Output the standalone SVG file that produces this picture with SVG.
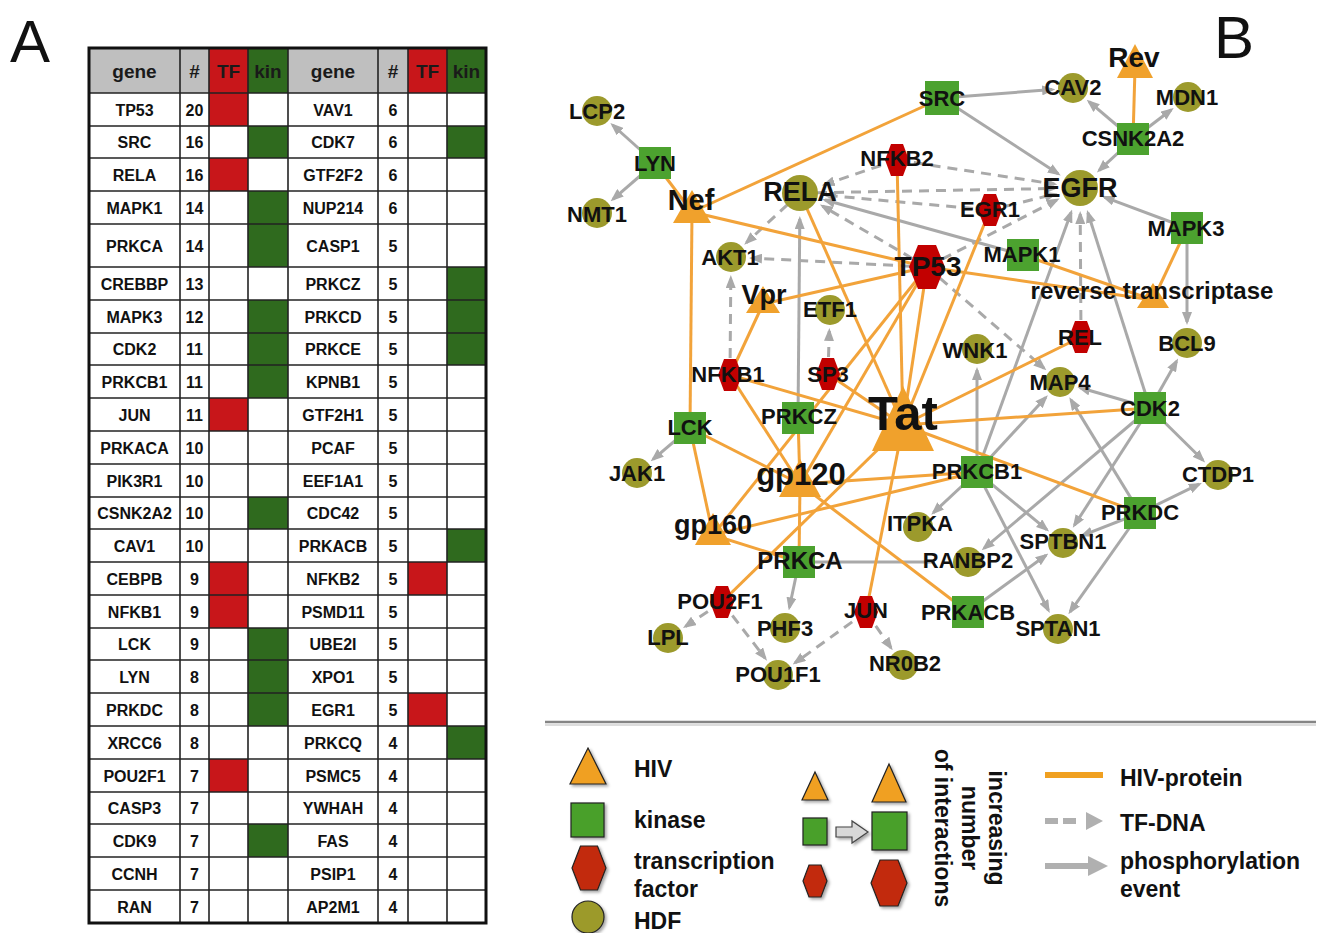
<svg xmlns="http://www.w3.org/2000/svg" width="1324" height="933" viewBox="0 0 1324 933">
<defs>
<style>
.f{font-family:"Liberation Sans",Arial,sans-serif;font-weight:bold;fill:#111}
.lbl{font-family:"Liberation Sans",Arial,sans-serif;font-weight:bold;fill:#111;text-anchor:middle;font-size:22px}
.tt{font-family:"Liberation Sans",Arial,sans-serif;font-weight:bold;fill:#111;text-anchor:middle;font-size:16px}
.th{font-family:"Liberation Sans",Arial,sans-serif;font-weight:bold;fill:#1a1a1a;text-anchor:middle;font-size:19px}
.leg{font-family:"Liberation Sans",Arial,sans-serif;font-weight:bold;fill:#111;font-size:23px}
.hiv{stroke:#f2a33a;stroke-width:3;fill:none}
.ph{stroke:#a9a9a9;stroke-width:3;fill:none}
.tf{stroke:#a9a9a9;stroke-width:3;fill:none;stroke-dasharray:10 7}
.c{fill:#9c9a2c}
.k{fill:#4ca22f}
.t{fill:#c20000}
.v{fill:#f0a12c}
.g{stroke:#222;stroke-width:1.6}
.red{fill:#c8161a}
.grn{fill:#2f6a1e}
</style>
<marker id="a" viewBox="0 0 13 10" refX="10" refY="5" markerWidth="13" markerHeight="10" markerUnits="userSpaceOnUse" orient="auto"><path d="M0,0L13,5L0,10z" fill="#a9a9a9"/></marker>
<filter id="sh" x="-30%" y="-30%" width="160%" height="160%"><feDropShadow dx="2" dy="2" stdDeviation="1.5" flood-color="#000" flood-opacity="0.35"/></filter>
</defs>
<rect width="1324" height="933" fill="#fff"/>

<text x="10" y="62" font-family="Liberation Sans,Arial,sans-serif" font-size="60" fill="#111">A</text>
<text x="1214" y="58" font-family="Liberation Sans,Arial,sans-serif" font-size="60" fill="#111">B</text>

<g id="table">
<rect x="89" y="48" width="397" height="45" fill="#bfbfbf"/>
<rect x="209" y="48" width="39" height="45" class="red"/>
<rect x="248" y="48" width="40" height="45" class="grn"/>
<rect x="408" y="48" width="39" height="45" class="red"/>
<rect x="447" y="48" width="39" height="45" class="grn"/>
<rect x="209" y="93" width="39" height="33" class="red"/>
<rect x="209" y="158" width="39" height="33" class="red"/>
<rect x="209" y="398" width="39" height="33" class="red"/>
<rect x="209" y="562" width="39" height="66" class="red"/>
<rect x="209" y="759" width="39" height="33" class="red"/>
<rect x="248" y="126" width="40" height="32" class="grn"/>
<rect x="248" y="191" width="40" height="76" class="grn"/>
<rect x="248" y="300" width="40" height="98" class="grn"/>
<rect x="248" y="497" width="40" height="32" class="grn"/>
<rect x="248" y="628" width="40" height="98" class="grn"/>
<rect x="248" y="824" width="40" height="33" class="grn"/>
<rect x="408" y="562" width="39" height="33" class="red"/>
<rect x="408" y="693" width="39" height="33" class="red"/>
<rect x="447" y="126" width="39" height="32" class="grn"/>
<rect x="447" y="267" width="39" height="98" class="grn"/>
<rect x="447" y="529" width="39" height="33" class="grn"/>
<rect x="447" y="726" width="39" height="33" class="grn"/>
<g class="g">
<line x1="180" y1="48" x2="180" y2="923"/><line x1="209" y1="48" x2="209" y2="923"/><line x1="248" y1="48" x2="248" y2="923"/><line x1="288" y1="48" x2="288" y2="923"/><line x1="378" y1="48" x2="378" y2="923"/><line x1="408" y1="48" x2="408" y2="923"/><line x1="447" y1="48" x2="447" y2="923"/>
<line x1="89" y1="93" x2="486" y2="93"/><line x1="89" y1="126" x2="486" y2="126"/><line x1="89" y1="158" x2="486" y2="158"/><line x1="89" y1="191" x2="486" y2="191"/><line x1="89" y1="224" x2="486" y2="224"/><line x1="89" y1="267" x2="486" y2="267"/><line x1="89" y1="300" x2="486" y2="300"/><line x1="89" y1="333" x2="486" y2="333"/><line x1="89" y1="365" x2="486" y2="365"/><line x1="89" y1="398" x2="486" y2="398"/><line x1="89" y1="431" x2="486" y2="431"/><line x1="89" y1="464" x2="486" y2="464"/><line x1="89" y1="497" x2="486" y2="497"/><line x1="89" y1="529" x2="486" y2="529"/><line x1="89" y1="562" x2="486" y2="562"/><line x1="89" y1="595" x2="486" y2="595"/><line x1="89" y1="628" x2="486" y2="628"/><line x1="89" y1="660" x2="486" y2="660"/><line x1="89" y1="693" x2="486" y2="693"/><line x1="89" y1="726" x2="486" y2="726"/><line x1="89" y1="759" x2="486" y2="759"/><line x1="89" y1="792" x2="486" y2="792"/><line x1="89" y1="824" x2="486" y2="824"/><line x1="89" y1="857" x2="486" y2="857"/><line x1="89" y1="890" x2="486" y2="890"/>
</g>
<rect x="89" y="48" width="397" height="875" fill="none" stroke="#111" stroke-width="3"/>
<g class="th">
<text x="134.5" y="78">gene</text><text x="194.5" y="78">#</text><text x="228.5" y="78">TF</text><text x="268" y="78">kin</text>
<text x="333" y="78">gene</text><text x="393" y="78">#</text><text x="427.5" y="78">TF</text><text x="466.5" y="78">kin</text>
</g>
<g class="tt">
<text x="134.5" y="115.5">TP53</text><text x="194.5" y="115.5">20</text><text x="333" y="115.5">VAV1</text><text x="393" y="115.5">6</text>
<text x="134.5" y="148">SRC</text><text x="194.5" y="148">16</text><text x="333" y="148">CDK7</text><text x="393" y="148">6</text>
<text x="134.5" y="180.5">RELA</text><text x="194.5" y="180.5">16</text><text x="333" y="180.5">GTF2F2</text><text x="393" y="180.5">6</text>
<text x="134.5" y="213.5">MAPK1</text><text x="194.5" y="213.5">14</text><text x="333" y="213.5">NUP214</text><text x="393" y="213.5">6</text>
<text x="134.5" y="251.5">PRKCA</text><text x="194.5" y="251.5">14</text><text x="333" y="251.5">CASP1</text><text x="393" y="251.5">5</text>
<text x="134.5" y="289.5">CREBBP</text><text x="194.5" y="289.5">13</text><text x="333" y="289.5">PRKCZ</text><text x="393" y="289.5">5</text>
<text x="134.5" y="322.5">MAPK3</text><text x="194.5" y="322.5">12</text><text x="333" y="322.5">PRKCD</text><text x="393" y="322.5">5</text>
<text x="134.5" y="355">CDK2</text><text x="194.5" y="355">11</text><text x="333" y="355">PRKCE</text><text x="393" y="355">5</text>
<text x="134.5" y="387.5">PRKCB1</text><text x="194.5" y="387.5">11</text><text x="333" y="387.5">KPNB1</text><text x="393" y="387.5">5</text>
<text x="134.5" y="420.5">JUN</text><text x="194.5" y="420.5">11</text><text x="333" y="420.5">GTF2H1</text><text x="393" y="420.5">5</text>
<text x="134.5" y="453.5">PRKACA</text><text x="194.5" y="453.5">10</text><text x="333" y="453.5">PCAF</text><text x="393" y="453.5">5</text>
<text x="134.5" y="486.5">PIK3R1</text><text x="194.5" y="486.5">10</text><text x="333" y="486.5">EEF1A1</text><text x="393" y="486.5">5</text>
<text x="134.5" y="519">CSNK2A2</text><text x="194.5" y="519">10</text><text x="333" y="519">CDC42</text><text x="393" y="519">5</text>
<text x="134.5" y="551.5">CAV1</text><text x="194.5" y="551.5">10</text><text x="333" y="551.5">PRKACB</text><text x="393" y="551.5">5</text>
<text x="134.5" y="584.5">CEBPB</text><text x="194.5" y="584.5">9</text><text x="333" y="584.5">NFKB2</text><text x="393" y="584.5">5</text>
<text x="134.5" y="617.5">NFKB1</text><text x="194.5" y="617.5">9</text><text x="333" y="617.5">PSMD11</text><text x="393" y="617.5">5</text>
<text x="134.5" y="650">LCK</text><text x="194.5" y="650">9</text><text x="333" y="650">UBE2I</text><text x="393" y="650">5</text>
<text x="134.5" y="682.5">LYN</text><text x="194.5" y="682.5">8</text><text x="333" y="682.5">XPO1</text><text x="393" y="682.5">5</text>
<text x="134.5" y="715.5">PRKDC</text><text x="194.5" y="715.5">8</text><text x="333" y="715.5">EGR1</text><text x="393" y="715.5">5</text>
<text x="134.5" y="748.5">XRCC6</text><text x="194.5" y="748.5">8</text><text x="333" y="748.5">PRKCQ</text><text x="393" y="748.5">4</text>
<text x="134.5" y="781.5">POU2F1</text><text x="194.5" y="781.5">7</text><text x="333" y="781.5">PSMC5</text><text x="393" y="781.5">4</text>
<text x="134.5" y="814">CASP3</text><text x="194.5" y="814">7</text><text x="333" y="814">YWHAH</text><text x="393" y="814">4</text>
<text x="134.5" y="846.5">CDK9</text><text x="194.5" y="846.5">7</text><text x="333" y="846.5">FAS</text><text x="393" y="846.5">4</text>
<text x="134.5" y="879.5">CCNH</text><text x="194.5" y="879.5">7</text><text x="333" y="879.5">PSIP1</text><text x="393" y="879.5">4</text>
<text x="134.5" y="912.5">RAN</text><text x="194.5" y="912.5">7</text><text x="333" y="912.5">AP2M1</text><text x="393" y="912.5">4</text>
</g>
</g>

<g id="connectors">
<g class="ph" marker-end="url(#a)">
<line x1="655" y1="163" x2="612.6" y2="125"/>
<line x1="655" y1="163" x2="612.9" y2="199.3"/>
<line x1="942" y1="98" x2="1052.1" y2="89.6"/>
<line x1="942" y1="98" x2="1058.2" y2="173.8"/>
<line x1="1133" y1="139" x2="1089" y2="101.6"/>
<line x1="1133" y1="139" x2="1171.3" y2="109.7"/>
<line x1="1133" y1="139" x2="1099.1" y2="170.4"/>
<line x1="1187" y1="228" x2="1104.4" y2="197.1"/>
<line x1="1187" y1="228" x2="1187" y2="322"/>
<line x1="1023" y1="255" x2="825" y2="200"/>
<line x1="798" y1="418" x2="799.8" y2="219"/>
<line x1="1150" y1="408" x2="1087.9" y2="212.8"/>
<line x1="977" y1="472" x2="1071.1" y2="212.4"/>
<line x1="977" y1="472" x2="977" y2="370"/>
<line x1="977" y1="472" x2="1045.8" y2="397.4"/>
<line x1="977" y1="472" x2="933.4" y2="512.7"/>
<line x1="977" y1="472" x2="1046.8" y2="529.6"/>
<line x1="977" y1="472" x2="1048.4" y2="610.3"/>
<line x1="1150" y1="408" x2="1080.2" y2="387.8"/>
<line x1="1150" y1="408" x2="1176.6" y2="361.2"/>
<line x1="1150" y1="408" x2="1203" y2="460.3"/>
<line x1="1150" y1="408" x2="984" y2="548.4"/>
<line x1="1150" y1="408" x2="1074.4" y2="525.3"/>
<line x1="1140" y1="513" x2="1070.9" y2="399.9"/>
<line x1="1140" y1="513" x2="1199.1" y2="484.2"/>
<line x1="1140" y1="513" x2="1082.6" y2="535.4"/>
<line x1="1140" y1="513" x2="1070.1" y2="611.9"/>
<line x1="968" y1="612" x2="1046" y2="555.3"/>
<line x1="799" y1="562" x2="789.4" y2="607.5"/>
<line x1="690" y1="428" x2="653" y2="459.4"/>
</g>
<line class="ph" x1="799" y1="562" x2="935" y2="562"/>
<g class="tf" marker-end="url(#a)">
<line x1="897" y1="160" x2="824.6" y2="184.6"/>
<line x1="897" y1="160" x2="1054.3" y2="184.1"/>
<line x1="800" y1="193" x2="1054" y2="188.5"/>
<line x1="990" y1="210" x2="825.9" y2="195.3"/>
<line x1="990" y1="210" x2="1054.7" y2="194.2"/>
<line x1="927" y1="267" x2="822.5" y2="206.1"/>
<line x1="927" y1="267" x2="752" y2="258.1"/>
<line x1="927" y1="267" x2="1056.9" y2="199.9"/>
<line x1="927" y1="267" x2="1044.1" y2="368.3"/>
<line x1="800" y1="193" x2="746.4" y2="242.7"/>
<line x1="730" y1="375" x2="730.8" y2="278"/>
<line x1="828" y1="374" x2="829.3" y2="331"/>
<line x1="1081" y1="337" x2="1080.2" y2="214"/>
<line x1="722" y1="602" x2="685.5" y2="626.4"/>
<line x1="722" y1="602" x2="765.2" y2="658.3"/>
<line x1="866" y1="612" x2="795.1" y2="662.8"/>
<line x1="866" y1="612" x2="891" y2="647.8"/>
</g>
<g class="hiv">
<line x1="692" y1="212" x2="942" y2="98"/>
<line x1="692" y1="212" x2="655" y2="163"/>
<line x1="692" y1="212" x2="927" y2="267"/>
<line x1="692" y1="212" x2="690" y2="428"/>
<line x1="800" y1="193" x2="903" y2="425"/>
<line x1="763" y1="304" x2="927" y2="267"/>
<line x1="763" y1="304" x2="730" y2="375"/>
<line x1="897" y1="160" x2="903" y2="425"/>
<line x1="927" y1="267" x2="903" y2="425"/>
<line x1="990" y1="210" x2="903" y2="425"/>
<line x1="927" y1="267" x2="800" y2="484"/>
<line x1="713" y1="535" x2="927" y2="267"/>
<line x1="927" y1="267" x2="1153" y2="300"/>
<line x1="1023" y1="255" x2="1153" y2="300"/>
<line x1="1187" y1="228" x2="1153" y2="300"/>
<line x1="1133" y1="139" x2="1135" y2="68"/>
<line x1="730" y1="375" x2="903" y2="425"/>
<line x1="828" y1="374" x2="903" y2="425"/>
<line x1="730" y1="375" x2="800" y2="484"/>
<line x1="690" y1="428" x2="800" y2="484"/>
<line x1="690" y1="428" x2="713" y2="535"/>
<line x1="798" y1="418" x2="800" y2="484"/>
<line x1="800" y1="484" x2="799" y2="562"/>
<line x1="800" y1="484" x2="977" y2="472"/>
<line x1="713" y1="535" x2="977" y2="472"/>
<line x1="800" y1="484" x2="968" y2="612"/>
<line x1="713" y1="535" x2="799" y2="562"/>
<line x1="903" y1="425" x2="1081" y2="337"/>
<line x1="903" y1="425" x2="1150" y2="408"/>
<line x1="903" y1="425" x2="1140" y2="513"/>
<line x1="903" y1="425" x2="722" y2="602"/>
<line x1="903" y1="425" x2="866" y2="612"/>
</g>
</g>

<g id="nodes">
<g id="n-LCP2"><circle class="c" cx="597" cy="111" r="15"/><text class="lbl" x="597" y="119">LCP2</text></g>
<g id="n-NMT1"><circle class="c" cx="597" cy="213" r="15"/><text class="lbl" x="597" y="222">NMT1</text></g>
<g id="n-LYN"><rect class="k" x="639" y="147" width="32" height="32"/><text class="lbl" x="655" y="171">LYN</text></g>
<g id="n-Nef"><polygon class="v" points="692,190 711,223 673,223"/><text class="lbl" x="691" y="210" style="font-size:29px">Nef</text></g>
<g id="n-RELA"><circle class="c" cx="800" cy="193" r="18"/><text class="lbl" x="800" y="201" style="font-size:27px">RELA</text></g>
<g id="n-SRC"><rect class="k" x="925" y="81" width="34" height="34"/><text class="lbl" x="942" y="106">SRC</text></g>
<g id="n-NFKB2"><polygon class="t" points="891,144 903,144 909,160 903,176 891,176 885,160"/><text class="lbl" x="897" y="166">NFKB2</text></g>
<g id="n-CAV2"><circle class="c" cx="1073" cy="88" r="15"/><text class="lbl" x="1073" y="95">CAV2</text></g>
<g id="n-Rev"><polygon class="v" points="1135,44 1153,78 1117,78"/><text class="lbl" x="1134" y="67" style="font-size:28px">Rev</text></g>
<g id="n-MDN1"><circle class="c" cx="1188" cy="97" r="15"/><text class="lbl" x="1187" y="105">MDN1</text></g>
<g id="n-CSNK2A2"><rect class="k" x="1117" y="123" width="32" height="32"/><text class="lbl" x="1133" y="146">CSNK2A2</text></g>
<g id="n-EGFR"><circle class="c" cx="1080" cy="188" r="18"/><text class="lbl" x="1080" y="197" style="font-size:27px">EGFR</text></g>
<g id="n-EGR1"><polygon class="t" points="984,194 996,194 1002,210 996,226 984,226 978,210"/><text class="lbl" x="990" y="217">EGR1</text></g>
<g id="n-AKT1"><circle class="c" cx="731" cy="257" r="15"/><text class="lbl" x="730" y="265">AKT1</text></g>
<g id="n-MAPK1"><rect class="k" x="1007" y="239" width="32" height="32"/><text class="lbl" x="1022" y="262">MAPK1</text></g>
<g id="n-TP53"><polygon class="t" points="918,245 936,245 945,267 936,289 918,289 909,267"/><text class="lbl" x="928" y="276" style="font-size:28px">TP53</text></g>
<g id="n-MAPK3"><rect class="k" x="1171" y="212" width="32" height="32"/><text class="lbl" x="1186" y="236">MAPK3</text></g>
<g id="n-Vpr"><polygon class="v" points="763,286 780,313 746,313"/><text class="lbl" x="764" y="304" style="font-size:27px">Vpr</text></g>
<g id="n-ETF1"><circle class="c" cx="830" cy="310" r="15"/><text class="lbl" x="830" y="317">ETF1</text></g>
<g id="n-RT"><polygon class="v" points="1153,283 1169,308 1137,308"/><text class="lbl" x="1152" y="299" style="font-size:24px">reverse transcriptase</text></g>
<g id="n-WNK1"><circle class="c" cx="977" cy="349" r="15"/><text class="lbl" x="975" y="358">WNK1</text></g>
<g id="n-REL"><polygon class="t" points="1075,321 1087,321 1093,337 1087,353 1075,353 1069,337"/><text class="lbl" x="1080" y="345">REL</text></g>
<g id="n-BCL9"><circle class="c" cx="1187" cy="343" r="15"/><text class="lbl" x="1187" y="351">BCL9</text></g>
<g id="n-NFKB1"><polygon class="t" points="724,359 736,359 742,375 736,391 724,391 718,375"/><text class="lbl" x="728" y="382">NFKB1</text></g>
<g id="n-SP3"><polygon class="t" points="822,358 834,358 840,374 834,390 822,390 816,374"/><text class="lbl" x="828" y="382">SP3</text></g>
<g id="n-MAP4"><circle class="c" cx="1060" cy="382" r="15"/><text class="lbl" x="1060" y="390">MAP4</text></g>
<g id="n-CDK2"><rect class="k" x="1134" y="392" width="32" height="32"/><text class="lbl" x="1150" y="416">CDK2</text></g>
<g id="n-LCK"><rect class="k" x="674" y="412" width="32" height="32"/><text class="lbl" x="690" y="435">LCK</text></g>
<g id="n-PRKCZ"><rect class="k" x="782" y="402" width="32" height="32"/><text class="lbl" x="799" y="424">PRKCZ</text></g>
<g id="n-Tat"><polygon class="v" points="903,386 934,451 872,451"/><text class="lbl" x="903" y="430" style="font-size:49px">Tat</text></g>
<g id="n-JAK1"><circle class="c" cx="637" cy="473" r="15"/><text class="lbl" x="637" y="481">JAK1</text></g>
<g id="n-gp120"><polygon class="v" points="800,459 821,497 779,497"/><text class="lbl" x="801" y="485" style="font-size:31px">gp120</text></g>
<g id="n-PRKCB1"><rect class="k" x="961" y="456" width="32" height="32"/><text class="lbl" x="977" y="479">PRKCB1</text></g>
<g id="n-CTDP1"><circle class="c" cx="1218" cy="475" r="15"/><text class="lbl" x="1218" y="482">CTDP1</text></g>
<g id="n-gp160"><polygon class="v" points="713,513 731,545 695,545"/><text class="lbl" x="713" y="534" style="font-size:27px">gp160</text></g>
<g id="n-ITPKA"><circle class="c" cx="918" cy="527" r="15"/><text class="lbl" x="920" y="531">ITPKA</text></g>
<g id="n-PRKDC"><rect class="k" x="1124" y="497" width="32" height="32"/><text class="lbl" x="1140" y="520">PRKDC</text></g>
<g id="n-SPTBN1"><circle class="c" cx="1063" cy="543" r="15"/><text class="lbl" x="1063" y="549">SPTBN1</text></g>
<g id="n-RANBP2"><circle class="c" cx="968" cy="562" r="15"/><text class="lbl" x="968" y="568">RANBP2</text></g>
<g id="n-PRKCA"><rect class="k" x="783" y="546" width="32" height="32"/><text class="lbl" x="800" y="569" style="font-size:24px">PRKCA</text></g>
<g id="n-POU2F1"><polygon class="t" points="716,586 728,586 734,602 728,618 716,618 710,602"/><text class="lbl" x="720" y="609">POU2F1</text></g>
<g id="n-JUN"><polygon class="t" points="860,596 872,596 878,612 872,628 860,628 854,612"/><text class="lbl" x="866" y="618">JUN</text></g>
<g id="n-PRKACB"><rect class="k" x="952" y="596" width="32" height="32"/><text class="lbl" x="968" y="620">PRKACB</text></g>
<g id="n-SPTAN1"><circle class="c" cx="1058" cy="629" r="15"/><text class="lbl" x="1058" y="636">SPTAN1</text></g>
<g id="n-LPL"><circle class="c" cx="668" cy="638" r="15"/><text class="lbl" x="668" y="645">LPL</text></g>
<g id="n-PHF3"><circle class="c" cx="785" cy="628" r="15"/><text class="lbl" x="785" y="636">PHF3</text></g>
<g id="n-POU1F1"><circle class="c" cx="778" cy="675" r="15"/><text class="lbl" x="778" y="682">POU1F1</text></g>
<g id="n-NR0B2"><circle class="c" cx="903" cy="665" r="15"/><text class="lbl" x="905" y="671">NR0B2</text></g>
</g>

<g id="legend">
<line x1="545" y1="725" x2="1316" y2="725" stroke="#ddd" stroke-width="2"/>
<line x1="545" y1="722" x2="1316" y2="722" stroke="#858585" stroke-width="2.5"/>
<g stroke="#222" stroke-width="1.2" filter="url(#sh)">
<polygon points="588,748 606,784 570,784" fill="#f0a020"/>
<rect x="571" y="803" width="33" height="34" fill="#4aa02c"/>
<polygon points="580.5,846 597.5,846 606,868 597.5,890 580.5,890 572,868" fill="#c22a08"/>
<circle cx="588" cy="917" r="16" fill="#9c9a2c"/>
<polygon points="815,772 828,800 802,800" fill="#f0a020"/>
<polygon points="889,764 906,802 872,802" fill="#f0a020"/>
<rect x="803" y="818" width="24" height="27" fill="#4aa02c"/>
<rect x="872" y="812" width="35" height="38" fill="#4aa02c"/>
<polygon points="809,865 821,865 827,881 821,897 809,897 803,881" fill="#c22a08"/>
<polygon points="880,860 898,860 907,883 898,906 880,906 871,883" fill="#c22a08"/>
<path d="M836,827H852V821L868,832L852,843V837H836Z" fill="#d8d8d8" stroke="#444"/>
</g>
<text class="leg" x="634" y="777">HIV</text>
<text class="leg" x="634" y="828">kinase</text>
<text class="leg" x="634" y="869">transcription</text>
<text class="leg" x="634" y="897">factor</text>
<text class="leg" x="634" y="929">HDF</text>
<g class="leg" text-anchor="middle">
<text transform="translate(989,828) rotate(90)">increasing</text>
<text transform="translate(962,828) rotate(90)">number</text>
<text transform="translate(935,828) rotate(90)">of interactions</text>
</g>
<line x1="1045" y1="775" x2="1103" y2="775" stroke="#f0a020" stroke-width="6"/>
<line x1="1045" y1="821" x2="1076" y2="821" stroke="#b0b0b0" stroke-width="6" stroke-dasharray="13 5"/>
<polygon points="1086,812 1103,821 1086,830" fill="#b0b0b0"/>
<line x1="1045" y1="866" x2="1089" y2="866" stroke="#b0b0b0" stroke-width="6"/>
<polygon points="1088,856 1108,866 1088,876" fill="#b0b0b0"/>
<text class="leg" x="1120" y="786">HIV-protein</text>
<text class="leg" x="1120" y="831">TF-DNA</text>
<text class="leg" x="1120" y="869">phosphorylation</text>
<text class="leg" x="1120" y="897">event</text>
</g>
</svg>
